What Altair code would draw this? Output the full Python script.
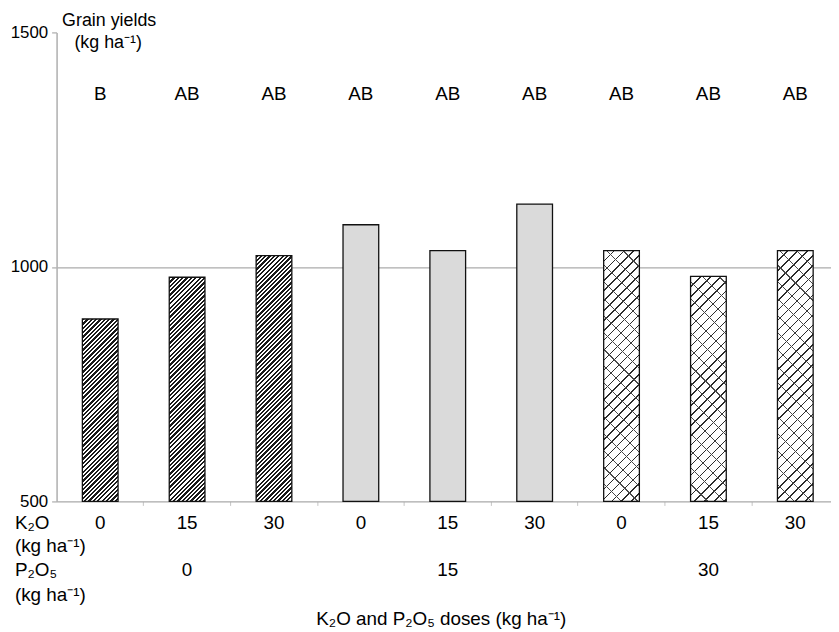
import altair as alt
import pandas as pd

# ---------------- data ----------------
treatments = ["P0K0", "P0K15", "P0K30", "P15K0", "P15K15", "P15K30", "P30K0", "P30K15", "P30K30"]
yields = [889, 978, 1024, 1090, 1035, 1134, 1035, 980, 1035]
letters = ["B", "AB", "AB", "AB", "AB", "AB", "AB", "AB", "AB"]
k2o_doses = ["0", "15", "30", "0", "15", "30", "0", "15", "30"]
p2o5_groups = ["0", "0", "0", "15", "15", "15", "30", "30", "30"]
p2o5_row_labels = ["", "0", "", "", "15", "", "", "30", ""]
y_ticks = [500, 1000, 1500]

df = pd.DataFrame({
    "treatment": treatments,
    "yield": yields,
    "letter": letters,
    "k2o": k2o_doses,
    "p2o5": p2o5_groups,
    "p2o5_row": p2o5_row_labels,
})

# ---------------- layout / style ----------------
FONT = "Liberation Sans"
W, H = 781, 473
Y_MIN, Y_MAX = 500, 1500
STEP, BAND = 87.625, 36.0
N = len(treatments)
p_inner = 1 - BAND / STEP
p_outer = (W / STEP - N + p_inner) / 2
gap_left = 26.0
align = gap_left / (W - STEP * (N - p_inner))

xscale = alt.Scale(paddingInner=p_inner, paddingOuter=p_outer, align=align, round=False)
xaxis = alt.Axis(title=None, labels=False, ticks=True, tickSize=4, tickColor="#c4c4c4",
                 tickWidth=1, domainColor="#a9a9a9", domainWidth=1.3,
                 bandPosition=1 + (STEP - BAND) / 2 / BAND, grid=False)
yscale = alt.Scale(domain=[Y_MIN, Y_MAX], nice=False, zero=False)
yaxis = alt.Axis(title=None, values=y_ticks, format="d", tickSize=5, tickColor="#9a9a9a",
                 tickWidth=1, domainColor="#b3b3b3", domainWidth=1.6, labelFont=FONT,
                 labelFontSize=17, labelColor="black", labelPadding=4, grid=True,
                 gridColor="#ababab", gridWidth=1.2,
                 gridOpacity={"condition": {"test": "datum.value === 1000", "value": 1}, "value": 0})

X = alt.X("treatment:N", sort=treatments, scale=xscale, axis=xaxis)
Y = alt.Y("yield:Q", scale=yscale, axis=yaxis)
Y2 = alt.Y2(datum=Y_MIN)


def stripe_gradient(h, w, period, dark, c_dark, c_light, direction):
    denom = w * w + h * h
    if direction == "/":
        x1, y1, x2, y2 = 0, 0, 1, h / w
    else:
        x1, y1, x2, y2 = 0, 1, 1, 1 - h / w
    k_t = w / denom
    stops = []
    n = int((w + h) / period) + 2
    for k in range(n):
        a = min(1.0, k * period * k_t)
        b = min(1.0, (k * period + dark) * k_t)
        c = min(1.0, (k + 1) * period * k_t)
        stops += [{"offset": a, "color": c_dark}, {"offset": b, "color": c_dark},
                  {"offset": b, "color": c_light}, {"offset": c, "color": c_light}]
    return {"gradient": "linear", "x1": x1, "y1": y1, "x2": x2, "y2": y2, "stops": stops}


def bar_height(v):
    return (v - Y_MIN) / (Y_MAX - Y_MIN) * H


base = alt.Chart(df)
layers = []

# plain light-grey bars (P2O5 = 15)
layers.append(base.transform_filter(alt.datum.p2o5 == "15").mark_bar(
    fill="#dadada", stroke="#111111", strokeWidth=1.3).encode(x=X, y=Y, y2=Y2))

# hatched bars (P2O5 = 0) and brick-patterned bars (P2O5 = 30)
for t, v, g in zip(treatments, yields, p2o5_groups):
    h = bar_height(v)
    sub = base.transform_filter(alt.datum.treatment == t)
    if g == "0":
        grad = stripe_gradient(h, BAND, 4.4, 2.3, "#1a1a1a", "#ffffff", "/")
        layers.append(sub.mark_bar(fill=grad, stroke="#111111", strokeWidth=1.3)
                      .encode(x=X, y=Y, y2=Y2))
    elif g == "30":
        g1 = stripe_gradient(h, BAND, 10.0, 1.5, "#2a2a2a", "#ffffff", "/")
        g2 = stripe_gradient(h, BAND, 17.0, 1.1, "#4a4a4a", "rgba(255,255,255,0)", "\\")
        layers.append(sub.mark_bar(fill=g1, strokeWidth=0).encode(x=X, y=Y, y2=Y2))
        layers.append(sub.mark_bar(fill=g2, stroke="#111111", strokeWidth=1.3)
                      .encode(x=X, y=Y, y2=Y2))

# letters above bars
layers.append(base.mark_text(font=FONT, fontSize=19, color="black", baseline="middle")
              .encode(x=X, y=alt.value(62), text="letter:N"))
# K2O dose row
layers.append(base.mark_text(font=FONT, fontSize=19, color="black", baseline="middle")
              .encode(x=X, y=alt.value(495), text="k2o:N"))
# P2O5 dose row
layers.append(base.mark_text(font=FONT, fontSize=19, color="black", baseline="middle")
              .encode(x=X, y=alt.value(542), text="p2o5_row:N"))


def label(text, x, y, size=19, align="left"):
    return alt.Chart(pd.DataFrame({"t": [text]})).mark_text(
        font=FONT, fontSize=size, color="black", align=align, baseline="middle"
    ).encode(x=alt.value(x), y=alt.value(y), text="t:N")


layers += [
    label("Grain yields", 53, -11, 18, "center"),
    label("(kg ha\u207b\u00b9)", 52, 11, 18, "center"),
    label("K\u2082O", -42, 495),
    label("(kg ha\u207b\u00b9)", -42, 518),
    label("P\u2082O\u2085", -42, 542),
    label("(kg ha\u207b\u00b9)", -42, 567),
    label("K\u2082O and P\u2082O\u2085 doses (kg ha\u207b\u00b9)", 388, 592, 19, "center"),
]

chart = alt.layer(*layers).properties(
    width=W, height=H,
    autosize=alt.AutoSizeParams(type="none"),
    padding={"left": 49, "top": 22, "right": 0, "bottom": 127},
).configure_view(stroke=None)

chart.save("out.html", embed_options={"renderer": "svg", "actions": False})
